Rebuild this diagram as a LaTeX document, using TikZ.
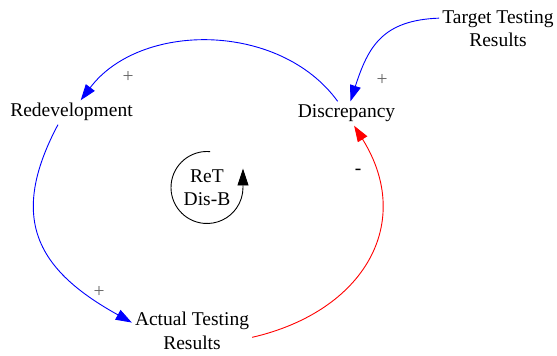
\documentclass[tikz,border=0pt]{standalone}
\usepackage{fontspec}
\setmainfont{Liberation Serif}
\usetikzlibrary{arrows.meta}

\begin{document}
\begin{tikzpicture}
		[x=1pt,y=1pt,
		 lbl/.style={font=\fontsize{19.5}{23.5}\selectfont,inner sep=3pt,align=center},
		 one/.style={lbl,text height=13.5pt,text depth=4.5pt},
		 sign/.style={font=\fontsize{19.5}{23.5}\selectfont,inner sep=0pt,text=black!60},
		 poslink/.style={draw=blue,line width=0.9pt,-{Triangle[length=16pt,width=11pt]}},
		 neglink/.style={draw=red,line width=0.9pt,-{Triangle[length=16pt,width=11pt]}},
		 loopline/.style={draw=black,line width=0.9pt,-{Triangle[length=17pt,width=11pt]}}]

		\useasboundingbox (0,0) rectangle (557,356);

		\node[one] (redev) at (71.5,243.5) {Redevelopment};

		\node[one] (disc) at (346.5,242.5) {Discrepancy}
			edge [poslink,out=126,in=53,looseness=0.98]	(redev)
		;

		\node[lbl] (target) at (498,327.5) {Target Testing\\Results};
		\node[lbl] (actual) at (192,25) {Actual Testing\\Results};
		\node[lbl] (loop) at (207,168.5) {ReT\\Dis-B};

		\draw[poslink] (target.170) to[out=182,in=72,looseness=1.2] (disc);
		\draw[poslink] (redev.222) to[out=242,in=151,looseness=1.3] (actual.172);
		\draw[neglink] (actual.-6) to[out=13,in=-58,looseness=1.25] (disc);

		\draw[loopline] ([shift={(85:36)}]loop.center) arc[start angle=85,end angle=360,radius=36] -- ++(0,19);

		\node[sign] (s1) at (128,279) {+};
		\node[sign] (s2) at (382,276) {+};
		\node[sign] (s3) at (99,64) {+};
		\node[sign,text=black] (s4) at (358,184) {-};

	\end{tikzpicture}
\end{document}
